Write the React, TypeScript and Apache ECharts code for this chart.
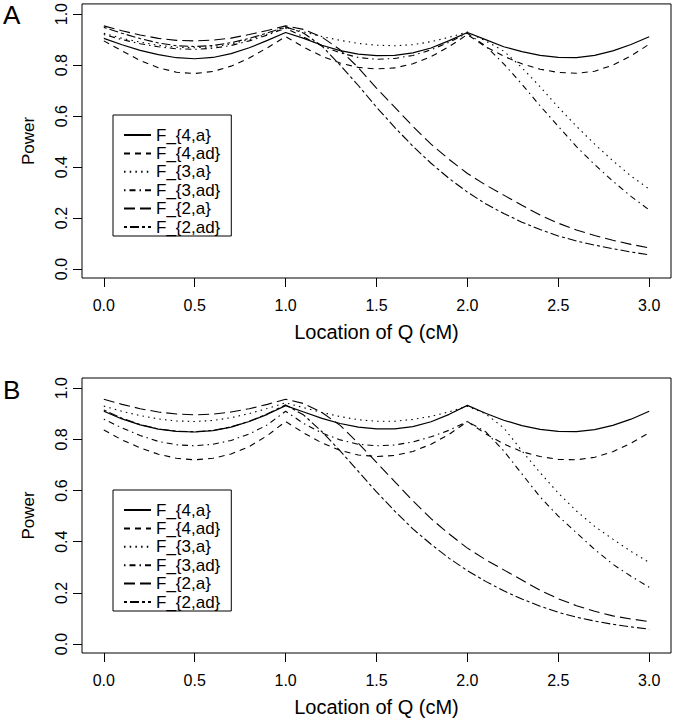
import React, { useEffect, useRef } from "react";
import * as echarts from "echarts";

// Location of Q (cM) sample positions
const X = [0, 0.1, 0.2, 0.3, 0.4, 0.5, 0.6, 0.7, 0.8, 0.9, 1.0, 1.1, 1.2, 1.3, 1.4, 1.5, 1.6, 1.7, 1.8, 1.9, 2.0, 2.1, 2.2, 2.3, 2.4, 2.5, 2.6, 2.7, 2.8, 2.9, 3.0];

const SERIES_NAMES = ["F_{4,a}", "F_{4,ad}", "F_{3,a}", "F_{3,ad}", "F_{2,a}", "F_{2,ad}"];

const X_TICKS = [0, 0.5, 1.0, 1.5, 2.0, 2.5, 3.0];
const Y_TICKS = [0, 0.2, 0.4, 0.6, 0.8, 1.0];

// Panel A
const A_F4a = [0.905, 0.88, 0.858, 0.841, 0.829, 0.825, 0.83, 0.845, 0.868, 0.897, 0.928, 0.905, 0.878, 0.857, 0.843, 0.837, 0.838, 0.848, 0.867, 0.896, 0.928, 0.9, 0.872, 0.853, 0.838, 0.83, 0.829, 0.838, 0.856, 0.881, 0.911];
const A_F4ad = [0.895, 0.856, 0.818, 0.79, 0.772, 0.767, 0.775, 0.796, 0.828, 0.868, 0.912, 0.87, 0.835, 0.808, 0.791, 0.785, 0.789, 0.805, 0.833, 0.873, 0.92, 0.872, 0.835, 0.805, 0.784, 0.771, 0.768, 0.776, 0.8, 0.836, 0.882];
const A_F3a = [0.925, 0.905, 0.89, 0.878, 0.87, 0.868, 0.872, 0.883, 0.9, 0.922, 0.948, 0.93, 0.912, 0.897, 0.885, 0.878, 0.876, 0.88, 0.892, 0.909, 0.93, 0.895, 0.855, 0.79, 0.715, 0.635, 0.56, 0.49, 0.425, 0.365, 0.314];
const A_F3ad = [0.92, 0.9, 0.884, 0.872, 0.864, 0.862, 0.866, 0.877, 0.895, 0.918, 0.945, 0.91, 0.875, 0.848, 0.83, 0.823, 0.826, 0.838, 0.86, 0.89, 0.925, 0.875, 0.805, 0.725, 0.64, 0.56, 0.48, 0.41, 0.345, 0.285, 0.232];
const A_F2a = [0.954, 0.935, 0.918, 0.905, 0.897, 0.895, 0.898, 0.906, 0.92, 0.936, 0.954, 0.94, 0.91, 0.86, 0.79, 0.71, 0.635, 0.56, 0.49, 0.43, 0.375, 0.33, 0.29, 0.25, 0.212, 0.18, 0.153, 0.132, 0.113, 0.097, 0.083];
const A_F2ad = [0.948, 0.925, 0.904, 0.887, 0.876, 0.873, 0.877, 0.888, 0.905, 0.926, 0.95, 0.925, 0.875, 0.8, 0.72, 0.635, 0.556, 0.482, 0.415, 0.355, 0.302, 0.256, 0.218, 0.184, 0.155, 0.13, 0.11, 0.094, 0.08, 0.067, 0.056];

// Panel B
const B_F4a = [0.91, 0.88, 0.857, 0.84, 0.831, 0.829, 0.834, 0.848, 0.87, 0.898, 0.932, 0.907, 0.882, 0.862, 0.848, 0.841, 0.841, 0.85, 0.869, 0.898, 0.933, 0.902, 0.875, 0.854, 0.839, 0.831, 0.83, 0.838, 0.855, 0.879, 0.91];
const B_F4ad = [0.837, 0.798, 0.767, 0.742, 0.726, 0.72, 0.726, 0.743, 0.772, 0.815, 0.87, 0.825, 0.786, 0.757, 0.739, 0.733, 0.737, 0.753, 0.781, 0.82, 0.87, 0.822, 0.782, 0.752, 0.733, 0.722, 0.72, 0.73, 0.752, 0.785, 0.826];
const B_F3a = [0.93, 0.91, 0.893, 0.88, 0.872, 0.87, 0.874, 0.885, 0.901, 0.921, 0.943, 0.924, 0.905, 0.889, 0.877, 0.871, 0.871, 0.878, 0.89, 0.908, 0.93, 0.9, 0.845, 0.755, 0.67, 0.59, 0.52, 0.46, 0.41, 0.362, 0.319];
const B_F3ad = [0.879, 0.845, 0.815, 0.792, 0.779, 0.775, 0.781, 0.796, 0.821, 0.857, 0.91, 0.862, 0.825, 0.798, 0.781, 0.775, 0.778, 0.79, 0.81, 0.836, 0.87, 0.83, 0.755, 0.665, 0.575, 0.5, 0.435, 0.37, 0.312, 0.265, 0.222];
const B_F2a = [0.957, 0.937, 0.92, 0.907, 0.899, 0.896, 0.899, 0.907, 0.92, 0.937, 0.957, 0.94, 0.905, 0.855, 0.785, 0.71, 0.635, 0.56, 0.49, 0.43, 0.375, 0.33, 0.29, 0.25, 0.21, 0.177, 0.15, 0.128, 0.11, 0.098, 0.088];
const B_F2ad = [0.915, 0.883, 0.858, 0.841, 0.832, 0.83, 0.835, 0.849, 0.871, 0.9, 0.935, 0.895, 0.83, 0.755, 0.675, 0.595, 0.52, 0.45, 0.39, 0.335, 0.287, 0.245, 0.208, 0.176, 0.148, 0.124, 0.105, 0.09, 0.077, 0.067, 0.058];

const PANELS = [
  { label: "A", series: [A_F4a, A_F4ad, A_F3a, A_F3ad, A_F2a, A_F2ad] },
  { label: "B", series: [B_F4a, B_F4ad, B_F3a, B_F3ad, B_F2a, B_F2ad] },
];

const FONT = "'Liberation Sans', Arial, Helvetica, sans-serif";
const DASHES: any[] = ["solid", [6, 5], [1.5, 4.2], [1.5, 4, 6, 4], [11, 5], [3, 3, 9, 3]];
const PANEL_TOPS = [3, 378];

export default function App() {
  const ref = useRef<HTMLDivElement>(null);
  useEffect(() => {
    if (!ref.current) return;
    const chart = echarts.init(ref.current, undefined, { renderer: "svg" });
    const grid: any[] = [];
    const xAxis: any[] = [];
    const yAxis: any[] = [];
    const series: any[] = [];
    const legend: any[] = [];
    const graphic: any[] = [];
    PANELS.forEach((p, pi) => {
      const top = PANEL_TOPS[pi];
      grid.push({ left: 82, top, width: 589, height: 275, show: true, borderColor: "#000", borderWidth: 1, backgroundColor: "transparent" });
      xAxis.push({
        type: "value", gridIndex: pi, min: -0.12, max: 3.12,
        axisLine: { show: false, onZero: false }, splitLine: { show: false },
        axisTick: { show: true, inside: false, length: 9, customValues: X_TICKS, lineStyle: { color: "#000", width: 1 } },
        axisLabel: { customValues: X_TICKS, formatter: (v: number) => v.toFixed(1), fontSize: 16, color: "#000", margin: 19, fontFamily: FONT },
        name: "Location of Q (cM)", nameLocation: "middle", nameGap: 44,
        nameTextStyle: { fontSize: 20, color: "#000", fontFamily: FONT },
      });
      yAxis.push({
        type: "value", gridIndex: pi, min: -0.035, max: 1.04,
        axisLine: { show: false, onZero: false }, splitLine: { show: false },
        axisTick: { show: true, inside: false, length: 9, customValues: Y_TICKS, lineStyle: { color: "#000", width: 1 } },
        axisLabel: { customValues: Y_TICKS, formatter: (v: number) => v.toFixed(1), fontSize: 16, color: "#000", margin: 13, rotate: 90, fontFamily: FONT },
        name: "Power", nameLocation: "middle", nameGap: 45, nameRotate: 90,
        nameTextStyle: { fontSize: 17, color: "#000", fontFamily: FONT },
      });
      p.series.forEach((vals, si) => {
        series.push({
          type: "line", name: SERIES_NAMES[si], xAxisIndex: pi, yAxisIndex: pi,
          data: X.map((x, k) => [x, vals[k]]),
          symbol: "none", showSymbol: false, silent: true,
          lineStyle: { color: "#000", width: si === 0 ? 1.2 : 1.1, type: DASHES[si] },
          itemStyle: { color: "#000" },
        });
      });
      legend.push({
        data: SERIES_NAMES, orient: "vertical", left: 113, top: top + 112,
        borderColor: "#000", borderWidth: 1, padding: [11, 11, 0, 10],
        itemWidth: 27, itemHeight: 18, itemGap: 0.4, selectedMode: false,
        itemStyle: { opacity: 0, borderWidth: 0 },
        textStyle: { fontSize: 17, color: "#000", lineHeight: 18, fontFamily: FONT },
      });
      graphic.push({ type: "text", left: 3, top: top - 1, style: { text: p.label, fontSize: 26, fill: "#000", fontFamily: FONT } });
    });
    chart.setOption({ animation: false, backgroundColor: "#fff", grid, xAxis, yAxis, series, legend, graphic });
    return () => chart.dispose();
  }, []);
  return <div ref={ref} style={{ position: "absolute", left: 0, top: 0, width: 674, height: 720 }} />;
}
